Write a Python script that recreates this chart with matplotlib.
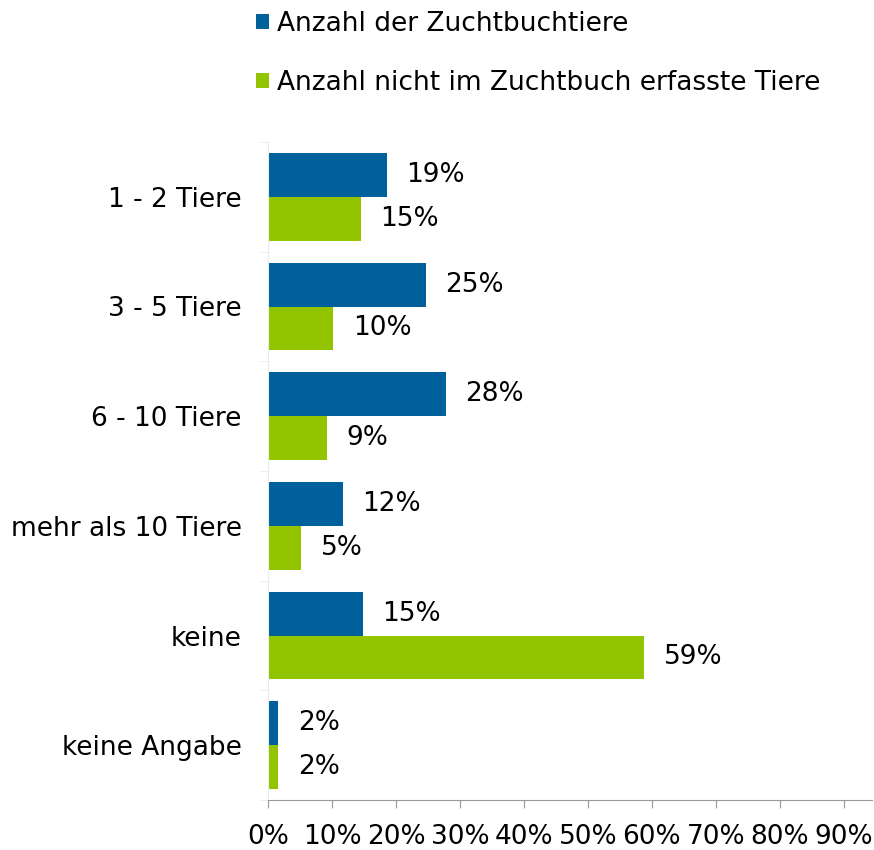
import numpy as np
import matplotlib.pyplot as plt
from matplotlib.ticker import FuncFormatter

categories = ["1 - 2 Tiere", "3 - 5 Tiere", "6 - 10 Tiere", "mehr als 10 Tiere", "keine", "keine Angabe"]
zuchtbuch = [18.6, 24.7, 27.8, 11.7, 14.8, 1.6]
nicht_zuchtbuch = [14.5, 10.2, 9.2, 5.2, 58.8, 1.6]
zuchtbuch_labels = ["19%", "25%", "28%", "12%", "15%", "2%"]
nicht_labels = ["15%", "10%", "9%", "5%", "59%", "2%"]
series_names = ["Anzahl der Zuchtbuchtiere", "Anzahl nicht im Zuchtbuch erfasste Tiere"]

blue = "#00609C"
green = "#92C500"
fs = 19

plt.rcParams['font.family'] = ['DejaVu Sans']

fig = plt.figure(figsize=(8.74, 8.5), dpi=100)
ax = fig.add_axes([268 / 874, 50 / 850, 604 / 874, 658 / 850])

y = np.arange(len(categories))
h = 0.4
b1 = ax.barh(y - h / 2, zuchtbuch, height=h, color=blue, label=series_names[0])
b2 = ax.barh(y + h / 2, nicht_zuchtbuch, height=h, color=green, label=series_names[1])

# value labels right of each bar
for bars, labels in [(b1, zuchtbuch_labels), (b2, nicht_labels)]:
    for rect, lab in zip(bars, labels):
        ax.annotate(lab, (rect.get_width(), rect.get_y() + rect.get_height() / 2),
                    xytext=(14, 0), textcoords="offset points", va="center", fontsize=fs)

ax.set_xlim(0, 94.4)
ax.set_ylim(len(categories) - 0.5, -0.5)
ax.set_xticks(np.arange(0, 91, 10))
ax.xaxis.set_major_formatter(FuncFormatter(lambda v, p: f"{int(v)}%"))
ax.set_yticks(y)
ax.set_yticklabels(categories)
ax.set_yticks(np.arange(-0.5, len(categories), 1), minor=True)

for s in ["top", "right"]:
    ax.spines[s].set_visible(False)
ax.spines["bottom"].set_color("#9a9a9a")
ax.spines["left"].set_color("#e4eeea")
ax.tick_params(axis="x", colors="#9a9a9a", labelcolor="black", length=6, labelsize=fs, pad=11)
ax.tick_params(axis="y", which="major", length=0, labelsize=fs, pad=19)
ax.tick_params(axis="y", which="minor", length=6, color="#e4eeea")

fig.legend(handles=[b1, b2], loc="upper left", bbox_to_anchor=(256 / 874, 1 - 11 / 850),
           frameon=False, fontsize=fs, handlelength=0.5, handleheight=0.5,
           handletextpad=0.3, labelspacing=1.25, borderpad=0, borderaxespad=0)

fig.savefig("out.png", dpi=100)
